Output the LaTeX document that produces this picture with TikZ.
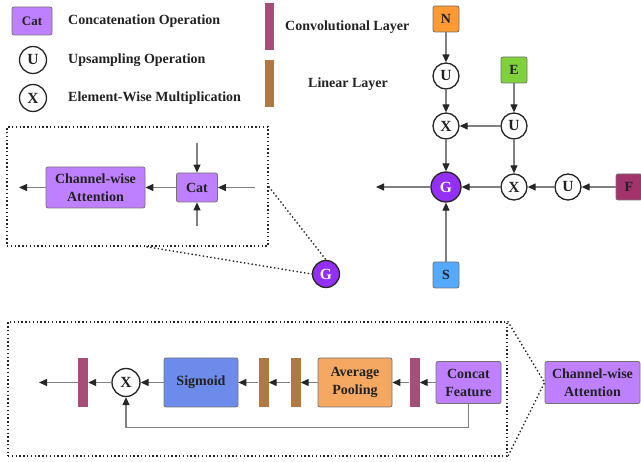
\documentclass[tikz,border=0pt]{standalone}
\usepackage{fontspec}
\setmainfont{Liberation Serif}
\usetikzlibrary{arrows.meta,calc}

\definecolor{catPurple}{HTML}{BF80FF}
\definecolor{gPurple}{HTML}{9430F5}
\definecolor{convCol}{HTML}{A64D79}
\definecolor{linCol}{HTML}{B07843}
\definecolor{nOrange}{HTML}{FF9933}
\definecolor{eGreen}{HTML}{80D23C}
\definecolor{sBlue}{HTML}{55AAFF}
\definecolor{fMaroon}{HTML}{A3336B}
\definecolor{sigBlue}{HTML}{6C8BEB}
\definecolor{apOrange}{HTML}{F4A862}
\definecolor{ink}{HTML}{222222}

\begin{document}
\begin{tikzpicture}[x=1pt,y=-1pt,
  font=\fontsize{14}{18}\selectfont\bfseries,
  box/.style={draw=black!55, line width=0.8pt, rounded corners=2pt,
    inner sep=0pt, text=ink, align=center},
  opcircle/.style={circle, draw=black!85, line width=1.3pt, fill=white,
    minimum size=26pt, inner sep=0pt, text=ink,
    font=\fontsize{15.5}{18}\selectfont\bfseries},
  bar/.style={minimum width=10pt, minimum height=49pt, inner sep=0pt},
  flow/.style={draw=black!50, line width=1.2pt,
    -{Triangle[length=8pt,width=7pt,color=black!85]}},
  panel/.style={draw=black!85, line width=1.4pt,
    dash pattern=on 1.4pt off 2.4pt, inner sep=0pt},
  link/.style={draw=black!85, line width=1.4pt,
    dash pattern=on 1.4pt off 2.4pt},
  legtext/.style={inner sep=0pt, anchor=west, text=ink}]

\useasboundingbox (0,0) rectangle (641,462);

% ---------- legend ----------
\node[box, fill=catPurple, minimum width=40pt, minimum height=28pt,
  font=\fontsize{13}{15}\selectfont\bfseries] (legcat) at (32,21) {Cat};
\node[legtext] (legcatt) at (68,21) {Concatenation Operation};
\node[opcircle, minimum size=27pt] (legu) at (33,60) {U};
\node[legtext] (legut) at (68,60) {Upsampling Operation};
\node[opcircle, minimum size=27pt] (legx) at (33,98) {X};
\node[legtext] (legxt) at (68,98) {Element-Wise Multiplication};
\node[bar, fill=convCol, minimum width=9pt, minimum height=47pt] (legconv) at (269.5,26.5) {};
\node[legtext] (legconvt) at (285,27) {Convolutional Layer};
\node[bar, fill=linCol, minimum width=9pt, minimum height=47pt] (leglin) at (269.5,83.5) {};
\node[legtext] (leglint) at (308,84) {Linear Layer};

% ---------- fusion graph ----------
\node[box, fill=nOrange, minimum size=26pt] (N) at (446,19) {N};
\node[opcircle] (u1) at (446,76) {U};
\node[box, fill=eGreen, minimum size=26pt] (E) at (514,70) {E};
\node[opcircle] (x1) at (446,126) {X};
\node[opcircle] (u2) at (514,126) {U};
\node[opcircle, fill=gPurple, text=white, minimum size=30pt] (G) at (446,187) {G};
\node[opcircle] (x2) at (514,187) {X};
\node[opcircle] (u3) at (568,187) {U};
\node[box, fill=fMaroon, minimum size=26pt] (F) at (629,187) {F};
\node[box, fill=sBlue, minimum size=26pt] (S) at (446,275) {S};
\coordinate (gout) at (376,187);

\draw[flow] (N) -- (u1);
\draw[flow] (u1) -- (x1);
\draw[flow] (E) -- (u2);
\draw[flow] (u2) -- (x1);
\draw[flow] (u2) -- (x2);
\draw[flow] (x1) -- (G);
\draw[flow] (F) -- (u3);
\draw[flow] (u3) -- (x2);
\draw[flow] (x2) -- (G);
\draw[flow] (S) -- (G);
\draw[flow] (G) -- (gout);

% ---------- G block detail ----------
\node[panel, minimum width=261pt, minimum height=119pt] (panA) at (137.5,186.5) {};
\node[box, fill=catPurple, minimum width=99pt, minimum height=41pt] (cwa1) at (95.5,187.5) {Channel-wise\\Attention};
\node[box, fill=catPurple, minimum width=41pt, minimum height=29pt] (cat1) at (197,187.5) {Cat};
\coordinate (inR) at (255,187.5);
\coordinate (inT) at (197,143);
\coordinate (inB) at (197,226);
\coordinate (outA) at (19,187.5);
\node[opcircle, fill=gPurple, text=white, minimum size=27pt] (G2) at (326,274) {G};

\draw[flow] (inR) -- (cat1);
\draw[flow] (inT) -- (cat1);
\draw[flow] (inB) -- (cat1);
\draw[flow] (cat1) -- (cwa1);
\draw[flow] (cwa1) -- (outA);
\draw[link] (panA.east) -- (G2.north);
\draw[link] ([xshift=9pt]panA.south) -- (G2.west);

% ---------- channel-wise attention detail ----------
\node[panel, minimum width=499pt, minimum height=134pt] (panB) at (257.5,389) {};
\node[bar, fill=convCol] (cb1) at (83,382.5) {};
\node[opcircle, minimum size=28pt] (x3) at (126,382.5) {X};
\node[box, fill=sigBlue, minimum width=74pt, minimum height=49pt] (sig) at (201,382.5) {Sigmoid};
\node[bar, fill=linCol] (lb1) at (263.5,382.5) {};
\node[bar, fill=linCol] (lb2) at (295.5,382.5) {};
\node[box, fill=apOrange, minimum width=74pt, minimum height=49pt] (ap) at (355,382.5) {Average\\Pooling};
\node[bar, fill=convCol] (cb2) at (414.5,382.5) {};
\node[box, fill=catPurple, minimum width=65pt, minimum height=42pt] (cf) at (468.5,382.5) {Concat\\Feature};
\node[box, fill=catPurple, minimum width=95pt, minimum height=42pt] (cwa2) at (592.5,382.5) {Channel-wise\\Attention};
\coordinate (outB) at (39,382.5);

\draw[flow] (cf) -- (cb2);
\draw[flow] (cb2) -- (ap);
\draw[flow] (ap) -- (lb2);
\draw[flow] (lb2) -- (lb1);
\draw[flow] (lb1) -- (sig);
\draw[flow] (sig) -- (x3);
\draw[flow] (x3) -- (cb1);
\draw[flow] (cb1) -- (outB);
\draw[flow] (cf.south) -- ++(0,24) -| (x3.south);
\draw[link] (panB.north east) -- (cwa2.west) -- (panB.south east);

\end{tikzpicture}
\end{document}
